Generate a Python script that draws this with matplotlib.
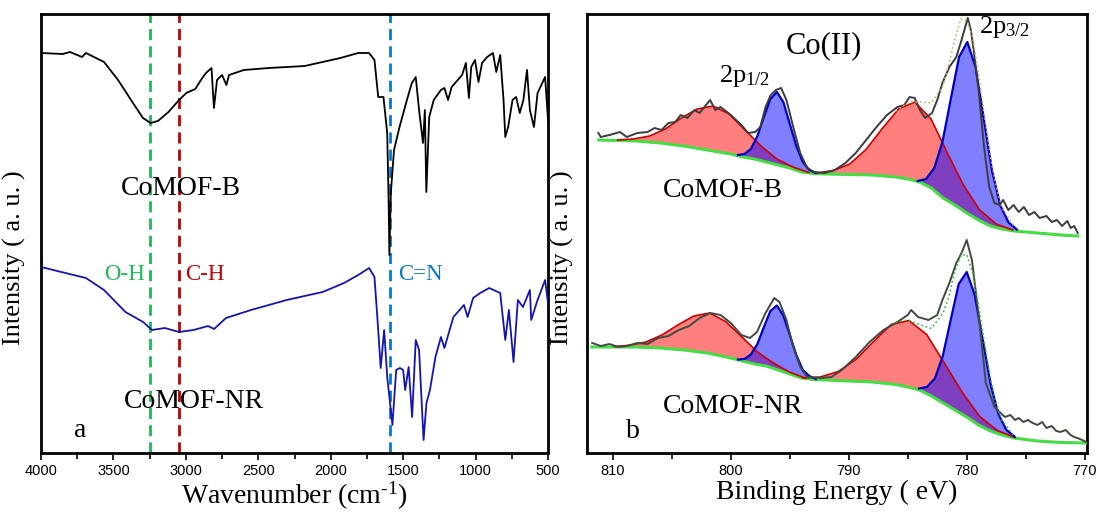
import numpy as np
import matplotlib.pyplot as plt
from matplotlib.ticker import MultipleLocator

plt.rcParams['font.family'] = ['Liberation Serif', 'DejaVu Serif']
plt.rcParams['mathtext.fontset'] = 'custom'
plt.rcParams['mathtext.rm'] = 'Liberation Serif'
plt.rcParams['mathtext.it'] = 'Liberation Serif:italic'

# ---------------- FTIR (panel a) ----------------
ir_b_wn = [4000, 3850, 3800, 3750, 3717, 3690, 3565, 3468, 3365, 3296, 3244, 3193, 3120,
           3047, 2997, 2935, 2896, 2861, 2823, 2806, 2785, 2750, 2720, 2702, 2600, 2426,
           2180, 1933, 1810, 1735, 1698, 1672, 1636, 1610, 1600, 1595, 1585, 1563, 1525,
           1474, 1440, 1413, 1390, 1363, 1350, 1340, 1320, 1289, 1239, 1215, 1190, 1165,
           1093, 1067, 1046, 1030, 1004, 980, 955, 920, 880, 857, 830, 807, 795, 775,
           745, 720, 695, 670, 645, 625, 597, 572, 520, 500]
ir_b_int = [400, 399, 401, 398, 396, 400, 391, 373, 350, 335, 330, 332, 341,
            353, 360, 364, 373, 380, 385, 345, 373, 378, 368, 378, 383, 385,
            387, 395, 400, 400, 393, 356, 356, 320, 250, 198, 260, 303, 326,
            353, 370, 376, 343, 310, 343, 261, 336, 353, 363, 365, 353, 366,
            378, 390, 355, 386, 393, 371, 390, 396, 400, 381, 398, 353, 316, 326,
            353, 356, 340, 353, 383, 343, 326, 360, 376, 333]

ir_nr_wn = [4000, 3690, 3565, 3417, 3295, 3234, 3145, 3047, 2947, 2847, 2805, 2723, 2550,
            2304, 2056, 1908, 1810, 1735, 1698, 1672, 1655, 1631, 1610, 1574, 1548, 1522,
            1500, 1486, 1462, 1438, 1413, 1390, 1359, 1339, 1315, 1277, 1239, 1215, 1153,
            1080, 1055, 1017, 968, 906, 830, 795, 770, 738, 708, 673, 625, 616, 572, 520, 500]
ir_nr_int = [186, 175, 163, 141, 131, 123, 125, 121, 123, 127, 124, 135, 143,
             153, 161, 170, 178, 185, 176, 123, 85, 123, 76, 28, 83, 85,
             83, 63, 86, 36, 113, 103, 13, 50, 63, 96, 116, 105, 136,
             148, 136, 155, 160, 165, 160, 113, 143, 91, 153, 146, 163, 133, 153, 173, 150]

bands_wn = [3250, 3050, 1590]
bands_txt = ['O-H', 'C-H', 'C=N']
bands_col = ['#1db954', '#c00000', '#0a78c8']

# ---------------- XPS Co 2p (panel b) ----------------
# CoMOF-B (upper)
b_raw_e = [811.24, 811.03, 810.29, 809.41, 808.82, 807.94, 807.06, 806.47, 805.88, 805.29,
           804.71, 804.26, 803.68, 803.09, 802.65, 801.76, 801.32, 800.88, 800.0, 799.12,
           798.53, 797.94, 797.5, 797.06, 796.62, 796.18, 795.74, 795.29, 794.71, 794.12,
           793.53, 792.94, 792.06, 791.18, 790.29, 789.41, 788.53, 787.65, 786.76, 785.88,
           785.29, 784.85, 784.41, 783.97, 783.53, 782.94, 782.5, 782.06, 781.47, 780.88,
           780.44, 780.15, 779.91, 779.65, 779.41, 778.97, 778.53, 778.09, 777.65, 777.21,
           776.91, 776.47, 776.03, 775.59, 775.15, 774.71, 774.26, 773.82, 773.24, 772.79,
           772.35, 771.91, 771.47, 771.18, 770.88, 770.59]
b_raw_i = [320, 316, 318, 321, 316, 320, 321, 325, 323, 330,
           331, 338, 335, 343, 340, 353, 343, 346, 338, 328,
           320, 321, 326, 346, 358, 363, 365, 353, 326, 300,
           285, 281, 280, 283, 290, 300, 313, 326, 338, 346,
           348, 356, 355, 343, 335, 340, 353, 370, 386, 396,
           413, 425, 435, 423, 403, 360, 306, 266, 250, 248,
           253, 243, 248, 241, 246, 238, 241, 235, 237, 231,
           233, 227, 232, 225, 227, 220]
b_bg_e = [811.2, 808, 806, 804, 802, 800, 799, 798, 797, 796, 795, 794, 793, 792, 790,
          788, 786, 785, 784, 783, 782, 781, 780, 779, 778, 777, 776, 774, 772, 770.6]
b_bg_i = [313, 312, 310, 307, 303, 299, 296, 294, 291, 288, 285, 281, 279.5, 279, 278.5,
          278, 276, 274, 271, 265, 255, 248, 240, 233, 227, 224, 222, 220, 218, 217]
b_sat1_e = [809.6, 808.25, 806.9, 805.55, 804.2, 802.85, 801.5, 800.15, 798.8, 797.45, 796.1, 794.75, 793.4]
b_sat1_i = [313, 314, 317, 324, 335, 344, 347, 339, 323, 307, 294, 286, 280.5]
b_p12_e = [799.4, 798.85, 798.3, 797.75, 797.2, 796.65, 796.1, 795.55, 795.0, 794.45, 793.9, 793.35, 792.8]
b_p12_i = [298, 299, 304, 317, 336, 354, 361, 351, 329, 307, 291, 283, 280]
b_sat2_e = [792.68, 791.3, 789.92, 788.54, 787.16, 785.78, 784.4, 783.02, 781.64, 780.26, 778.9, 777.5, 776.1]
b_sat2_i = [280, 282.5, 289, 303.5, 324.5, 344, 351, 334, 300, 267.5, 243, 229, 223]
b_p32_e = [784.15, 783.45, 782.75, 782.05, 781.35, 780.65, 779.95, 779.25, 778.55, 777.85, 777.15, 776.45, 775.75]
b_p32_i = [272, 274, 285, 311.5, 354, 396, 411, 386, 334, 282, 247.5, 230.5, 223.5]
b_env_e = [786, 785, 784, 783, 782, 781.5, 781, 780.5, 780, 779.5, 779, 778.5, 778, 777.5, 777, 776]
b_env_i = [342, 350.5, 351, 350, 367.5, 389.5, 414, 434, 433, 416, 380, 337, 297, 266, 245, 227]

# CoMOF-NR (lower)
n_raw_e = [811.76, 811.03, 810.29, 809.56, 808.82, 807.94, 807.06, 806.18, 805.29, 804.41,
           803.53, 802.65, 801.76, 800.88, 800.0, 799.12, 798.38, 797.79, 797.06, 796.32,
           795.88, 795.29, 794.71, 794.12, 793.53, 792.35, 791.47, 790.59, 789.41, 788.24,
           787.06, 785.88, 785.0, 784.71, 784.12, 783.24, 782.5, 782.06, 781.47, 780.88,
           780.44, 780.0, 779.56, 778.97, 778.38, 777.65, 776.76, 776.3, 775.9, 775.59,
           775.2, 774.8, 774.41, 774.0, 773.6, 773.24, 772.8, 772.4, 772.06, 771.6,
           771.2, 770.88, 770.4, 769.85]
n_raw_i = [110, 107, 109, 106, 107, 110, 109, 115, 117, 123,
           127, 135, 140, 138, 130, 118, 115, 121, 140, 155,
           151, 133, 106, 86, 76, 75, 76, 83, 96, 111,
           123, 131, 138, 143, 136, 133, 138, 153, 170, 190,
           200, 213, 193, 136, 70, 46, 36, 38, 33, 35,
           31, 33, 30, 28, 31, 25, 27, 22, 21, 23,
           18, 16, 14, 11]
n_bg_e = [811.8, 808, 806, 804, 802, 800, 799, 798, 797, 796, 795, 794, 793, 792, 790,
          788, 786, 785, 784, 783, 782, 781, 780, 779, 778, 777, 776, 774, 772, 769.9]
n_bg_i = [106, 106, 105, 103, 100, 95, 92, 89, 87, 83, 79, 75, 73.5, 73, 72,
          71, 68.5, 66, 63, 57, 50, 43, 36, 28, 22, 18, 15, 12, 10.5, 10]
n_sat1_e = [809.9, 808.55, 807.2, 805.85, 804.5, 803.15, 801.8, 800.45, 799.1, 797.75, 796.4, 795.05, 793.7]
n_sat1_i = [106.4, 107.8, 111, 118, 128, 137, 140, 131.5, 116.5, 101, 90, 81, 75]
n_p12_e = [799.4, 798.85, 798.3, 797.75, 797.2, 796.65, 796.1, 795.55, 795.0, 794.45, 793.9, 793.35, 792.8]
n_p12_i = [93.5, 94, 98.5, 109, 126, 142, 147.5, 137.5, 118, 98, 83, 77, 74]
n_sat2_e = [793.9, 792.4, 790.9, 789.4, 787.9, 786.4, 784.9, 783.4, 781.9, 780.4, 778.9, 777.4, 775.9]
n_sat2_i = [75, 76, 81.5, 93.5, 111.5, 128.5, 132.5, 118.5, 90, 61, 36.5, 22.5, 15.5]
n_p32_e = [784.05, 783.38, 782.7, 782.03, 781.35, 780.68, 780.0, 779.33, 778.65, 777.98, 777.3, 776.63, 775.95]
n_p32_i = [64.5, 66, 74.5, 97, 133.5, 169, 181, 158.5, 114, 69, 38.5, 23, 16.5]
n_env_e = [786, 785, 784, 783, 782, 781.5, 781, 780.5, 780, 779.5, 779, 778.5, 778, 777.5, 777, 776]
n_env_i = [131, 133, 128.5, 124.5, 140, 157, 182, 197.5, 198.5, 180.5, 148, 110, 75, 49, 32.5, 17]


def comp_poly(ax, ce, ci, bge, bgi, fc, lc, lw):
    # outline of the component, closed back along the background
    lo, hi = min(ce), max(ce)
    inner = [(e, v) for e, v in zip(bge, bgi) if lo < e < hi]
    inner.sort()
    xs = list(ce) + [p[0] for p in inner]
    ys = list(ci) + [p[1] for p in inner]
    ax.fill(xs, ys, color=fc, alpha=0.5, lw=0, zorder=2)
    ax.plot(ce, ci, color=lc, lw=lw, zorder=4)


fig = plt.figure(figsize=(11, 5.12), dpi=100)
ax1 = fig.add_axes([41 / 1100, 1 - 453 / 512, 507 / 1100, 439 / 512])
ax2 = fig.add_axes([587 / 1100, 1 - 453 / 512, 500 / 1100, 439 / 512])

# panel a
ax1.plot(ir_b_wn, ir_b_int, color='black', lw=1.3, zorder=3)
ax1.plot(ir_nr_wn, ir_nr_int, color='#1414b4', lw=1.3, zorder=3)
for wn, txt, col in zip(bands_wn, bands_txt, bands_col):
    ax1.axvline(wn, color=col, lw=2, ls=(0, (4, 2.2)), zorder=2)
ax1.text(3565, 173, 'O-H', color=bands_col[0], fontsize=16.5)
ax1.text(3006, 173, 'C-H', color=bands_col[1], fontsize=16.5)
ax1.text(1536, 173, 'C=N', color=bands_col[2], fontsize=16.5)
ax1.text(3448, 258, 'CoMOF-B', fontsize=20)
ax1.text(3427, 45, 'CoMOF-NR', fontsize=20)
ax1.text(0.065, 0.036, 'a', transform=ax1.transAxes, fontsize=20)
ax1.set_xlim(4000, 500)
ax1.set_ylim(0, 439)
ax1.xaxis.set_major_locator(MultipleLocator(500))
ax1.xaxis.set_minor_locator(MultipleLocator(250))
ax1.set_xlabel(r'Wavenumber (cm$^{\text{-1}}$)', fontsize=20, labelpad=1)
ax1.set_ylabel('Intensity ( a. u. )', fontsize=19)
ax1.yaxis.set_label_coords(-0.030, 0.444)

# panel b
for (re_, ri, ge, gi, s1e, s1i, p1e, p1i, s2e, s2i, p3e, p3i, ee, ei, raw_c, env_c) in [
        (b_raw_e, b_raw_i, b_bg_e, b_bg_i, b_sat1_e, b_sat1_i, b_p12_e, b_p12_i,
         b_sat2_e, b_sat2_i, b_p32_e, b_p32_i, b_env_e, b_env_i, '#3c3c3c', '#c8b070'),
        (n_raw_e, n_raw_i, n_bg_e, n_bg_i, n_sat1_e, n_sat1_i, n_p12_e, n_p12_i,
         n_sat2_e, n_sat2_i, n_p32_e, n_p32_i, n_env_e, n_env_i, '#404a40', '#3cb43c')]:
    comp_poly(ax2, s1e, s1i, ge, gi, '#ff0000', '#d00000', 1.2)
    comp_poly(ax2, s2e, s2i, ge, gi, '#ff0000', '#d00000', 1.2)
    comp_poly(ax2, p1e, p1i, ge, gi, '#0000ff', '#0000c0', 1.6)
    comp_poly(ax2, p3e, p3i, ge, gi, '#0000ff', '#0000c0', 1.6)
    ax2.plot(ge, gi, color='#44dd44', lw=2.2, zorder=3)
    ax2.plot(re_, ri, color=raw_c, lw=1.4, zorder=5)
    ax2.plot(ee, ei, color=env_c, lw=1.2, ls=':', zorder=6)

ax2.text(792.1, 400, 'Co(II)', fontsize=22, ha='center')
ax2.text(801.0, 371, r'2p$_{\rm 1/2}$', fontsize=19)
ax2.text(779.0, 420, r'2p$_{\rm 3/2}$', fontsize=19)
ax2.text(805.8, 256, 'CoMOF-B', fontsize=20)
ax2.text(805.8, 40, 'CoMOF-NR', fontsize=20)
ax2.text(0.078, 0.034, 'b', transform=ax2.transAxes, fontsize=20)
ax2.set_xlim(812.2, 769.8)
ax2.set_ylim(0, 439)
ax2.xaxis.set_major_locator(MultipleLocator(10))
ax2.xaxis.set_minor_locator(MultipleLocator(5))
ax2.set_xlabel('Binding Energy ( eV)', fontsize=20, labelpad=1)
ax2.set_ylabel('Intensity ( a. u. )', fontsize=19)
ax2.yaxis.set_label_coords(-0.026, 0.444)

for ax in (ax1, ax2):
    for sp in ax.spines.values():
        sp.set_linewidth(2)
    ax.tick_params(axis='y', left=False, labelleft=False)
    ax.tick_params(axis='x', which='major', direction='out', length=5, width=1.2,
                   labelsize=10.5, pad=3)
    ax.tick_params(axis='x', which='minor', direction='out', length=4, width=1.2)
    for lab in ax.get_xticklabels():
        lab.set_fontfamily(['Liberation Sans', 'DejaVu Sans'])

fig.savefig('out.png', dpi=100)
